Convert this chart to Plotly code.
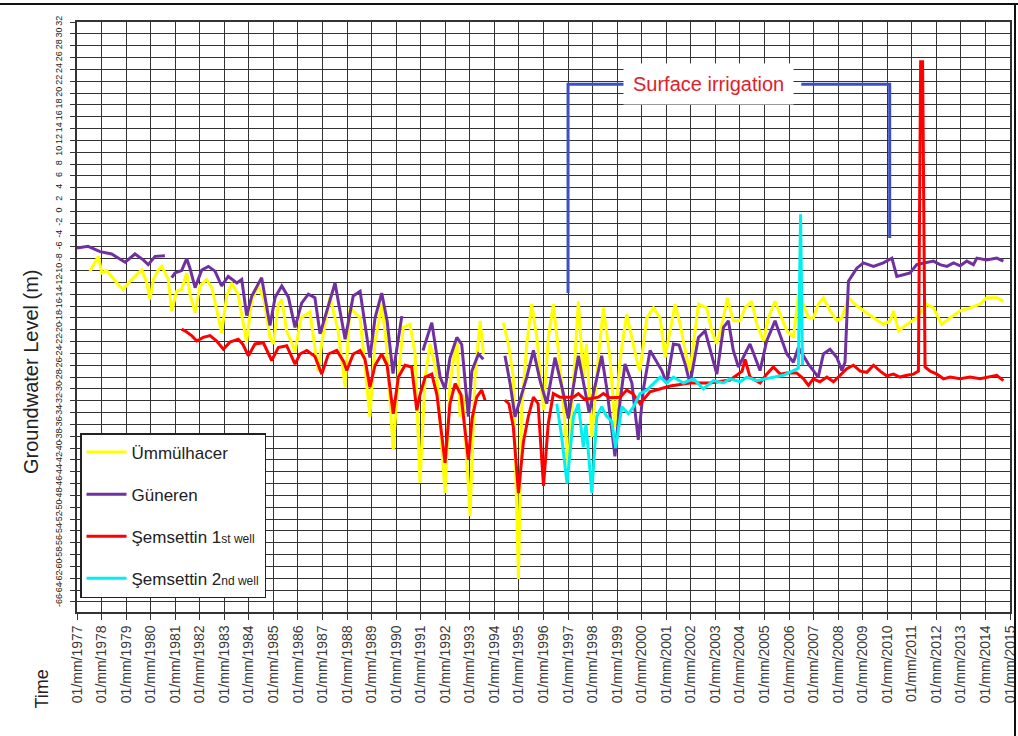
import plotly.graph_objects as go

# ---------------- data (decimal year, groundwater level in m) ----------------
umm_year = [1977.53, 1977.87, 1978.01, 1978.21, 1978.41, 1978.68, 1978.89, 1979.09, 1979.43, 1979.64,
            1979.84, 1979.97, 1980.11, 1980.31, 1980.45, 1980.72, 1980.86, 1981.06, 1981.26, 1981.47,
            1981.60, 1981.81, 1982.01, 1982.28, 1982.50, 1982.89, 1983.10, 1983.30, 1983.56, 1983.91,
            1984.12, 1984.39, 1984.62, 1984.86, 1985.00, 1985.20, 1985.34, 1985.54, 1985.76, 1985.88,
            1986.12, 1986.49, 1986.82, 1986.98, 1987.30, 1987.63, 1987.92, 1988.12, 1988.53, 1988.93,
            1989.14, 1989.41, 1989.59, 1989.88, 1990.08, 1990.29, 1990.56, 1990.77, 1990.97, 1991.18,
            1991.38, 1991.65, 1991.99, 1992.19, 1992.47, 1992.60, 1992.72, 1993.01, 1993.21, 1993.42,
            1993.55, 1994.00,
            1994.36, 1994.57, 1994.77, 1994.98, 1995.11, 1995.32, 1995.52, 1995.73, 1996.00, 1996.20,
            1996.40, 1996.67, 1997.01, 1997.22, 1997.42, 1997.62, 1997.75, 1997.97, 1998.23, 1998.44,
            1998.71, 1998.91, 1999.12, 1999.39, 1999.66, 1999.86, 1999.93, 2000.21, 2000.48, 2000.75,
            2000.95, 2001.16, 2001.36, 2001.56, 2001.83, 2001.97, 2002.31, 2002.65, 2002.85, 2003.06,
            2003.33, 2003.49, 2003.73, 2004.01, 2004.21, 2004.48, 2004.69, 2004.96, 2005.16, 2005.43,
            2005.64, 2005.91, 2006.18, 2006.38, 2006.59, 2006.79, 2006.99, 2007.19, 2007.40, 2007.67,
            2007.95, 2008.15, 2008.42, 2008.69, 2009.03, 2009.44, 2009.84, 2010.12, 2010.26, 2010.46,
            2010.80, 2011.20, 2011.61, 2011.88, 2012.22, 2012.56, 2012.97, 2013.37, 2013.78, 2014.05,
            2014.46, 2014.73]
umm_level = [-10.1, -7.6, -10.4, -10.0, -11.0, -12.4, -13.2, -12.1, -10.7, -9.9,
             -12.0, -14.9, -11.5, -9.9, -9.3, -11.5, -16.8, -13.5, -13.2, -10.4,
             -14.0, -17.1, -12.6, -11.5, -13.0, -20.5, -14.3, -12.1, -14.0, -22.1,
             -14.9, -12.6, -15.0, -21.3, -22.4, -15.7, -14.9, -20.2, -22.4, -23.8,
             -18.0, -17.0, -27.0, -22.0, -14.5, -20.0, -29.7, -16.3, -18.0, -34.7,
             -22.0, -15.7, -22.0, -40.3, -28.0, -19.6, -19.1, -24.0, -45.9, -28.0,
             -22.4, -27.5, -47.6, -29.1, -21.3, -34.7, -31.0, -51.5, -28.0, -18.5,
             -24.1, None,
             -18.8, -22.4, -28.0, -62.1, -33.6, -22.4, -15.7, -21.3, -33.6, -21.3,
             -15.7, -25.8, -43.1, -28.0, -15.2, -28.0, -22.4, -38.1, -24.8, -16.3,
             -24.8, -36.4, -25.0, -17.4, -22.4, -26.3, -26.9, -18.0, -16.3, -18.0,
             -24.7, -20.2, -15.7, -19.0, -24.7, -26.9, -15.7, -16.3, -20.2, -22.4,
             -18.0, -14.6, -18.5, -18.5, -16.3, -15.2, -19.1, -21.9, -18.0, -15.2,
             -17.5, -20.2, -21.3, -14.0, -15.7, -18.0, -18.0, -15.7, -14.6, -16.8,
             -18.5, -18.0, -14.6, -15.7, -16.8, -18.0, -19.1, -18.5, -16.8, -20.2,
             -19.1, -18.0, -15.7, -16.3, -19.1, -18.0, -16.8, -16.3, -15.7, -14.6,
             -14.6, -15.2]

gun_year = [1977.00, 1977.45, 1977.94, 1978.41, 1978.96, 1979.36, 1979.70, 1979.90, 1980.18, 1980.58,
            1980.70,
            1980.86, 1980.99, 1981.26, 1981.47, 1981.60, 1981.81, 1982.08, 1982.35, 1982.62, 1982.89,
            1983.16, 1983.51, 1983.71, 1983.91, 1984.12, 1984.52, 1984.86, 1985.07, 1985.34, 1985.61,
            1985.88, 1986.15, 1986.42, 1986.69, 1986.90, 1987.24, 1987.51, 1987.71, 1987.92, 1988.25,
            1988.53, 1988.93, 1989.14, 1989.41, 1989.63, 1989.87, 1990.23, 1990.60,
            1991.09, 1991.45, 1991.79, 1991.99, 1992.19, 1992.47, 1992.67, 1992.94, 1993.08, 1993.35,
            1993.55, 1994.00,
            1994.43, 1994.64, 1994.84, 1995.32, 1995.59, 1995.86, 1996.13, 1996.47, 1996.81, 1997.01,
            1997.42, 1997.62, 1997.86, 1998.37, 1998.58, 1998.91, 1999.12, 1999.32, 1999.60, 1999.86,
            2000.07, 2000.34, 2000.82, 2001.02, 2001.29, 2001.52, 2001.77, 2001.97, 2002.31, 2002.58,
            2003.06, 2003.33, 2003.53, 2003.73, 2003.94, 2004.41, 2004.82, 2005.09, 2005.43, 2005.91,
            2006.18, 2006.38, 2006.79, 2006.99, 2007.19, 2007.40, 2007.67, 2007.95, 2008.15, 2008.28,
            2008.42, 2008.76, 2009.03, 2009.44, 2009.84, 2010.19, 2010.39, 2010.66, 2010.93, 2011.20,
            2011.61, 2011.88, 2012.15, 2012.43, 2012.70, 2012.97, 2013.24, 2013.51, 2013.65, 2014.05,
            2014.46, 2014.73]
gun_level = [-6.2, -5.9, -6.8, -7.2, -8.6, -7.2, -8.2, -9.0, -7.6, -7.5,
             None,
             -11.2, -10.4, -10.0, -8.0, -9.6, -12.9, -9.9, -9.3, -10.1, -12.6,
             -11.0, -12.1, -11.5, -17.6, -14.3, -11.2, -19.3, -14.5, -12.6, -14.5,
             -19.6, -15.5, -14.0, -14.6, -20.7, -16.0, -12.1, -16.8, -21.6, -14.3,
             -13.5, -24.7, -18.0, -13.8, -18.5, -27.4, -17.7, None,
             -23.5, -18.8, -28.0, -30.0, -24.8, -21.3, -22.5, -34.7, -27.0, -24.1,
             -25.0, None,
             -24.4, -29.1, -34.7, -28.0, -23.5, -28.6, -32.5, -24.7, -30.8, -35.0,
             -24.4, -29.1, -34.0, -24.4, -30.0, -41.4, -32.0, -25.8, -29.0, -38.6,
             -30.0, -23.5, -26.9, -29.1, -22.4, -22.6, -25.8, -29.1, -21.3, -20.2,
             -27.5, -19.6, -18.5, -23.5, -26.3, -22.4, -26.9, -21.9, -18.5, -24.1,
             -25.5, -23.0, -25.8, -26.9, -28.0, -24.1, -23.3, -24.7, -26.9, -25.5,
             -11.8, -9.6, -8.7, -9.3, -8.7, -7.9, -11.0, -10.7, -10.4, -9.0,
             -8.7, -8.4, -9.0, -9.3, -8.7, -9.2, -8.4, -9.0, -7.9, -8.2,
             -7.9, -8.4]

sem1_year = [1981.26, 1981.44, 1981.67, 1981.88, 1982.14, 1982.42, 1982.69, 1982.96, 1983.23, 1983.57,
             1983.76, 1983.98, 1984.25, 1984.59, 1984.93, 1985.20, 1985.54, 1985.88, 1986.08, 1986.36,
             1986.69, 1986.97, 1987.24, 1987.58, 1987.85, 1987.99, 1988.25, 1988.53, 1988.73, 1988.93,
             1989.14, 1989.41, 1989.63, 1989.88, 1990.09, 1990.36, 1990.63, 1990.84, 1990.97, 1991.18,
             1991.45, 1991.66, 1991.99, 1992.19, 1992.40, 1992.64, 1992.94, 1993.09, 1993.28, 1993.48,
             1993.62, 1994.00,
             1994.43, 1994.59, 1994.77, 1994.98, 1995.18, 1995.38, 1995.59, 1995.78, 1996.00, 1996.19,
             1996.40, 1996.67, 1997.22, 1997.42, 1997.69, 1998.23, 1998.44, 1998.71, 1999.12, 1999.39,
             1999.64, 1999.93, 2000.34, 2001.16, 2001.97, 2002.78, 2003.60, 2004.09, 2004.21, 2004.41,
             2004.82, 2005.09, 2005.36, 2005.64, 2005.91, 2006.31, 2006.59, 2006.79, 2006.99, 2007.26,
             2007.54, 2007.81, 2008.08, 2008.35, 2008.62, 2008.90, 2009.17, 2009.44, 2009.71, 2009.98,
             2010.25, 2010.52, 2010.80, 2011.07, 2011.27, 2011.36, 2011.44, 2011.54, 2011.75, 2012.02,
             2012.29, 2012.56, 2012.97, 2013.37, 2013.78, 2014.19, 2014.46, 2014.73]
sem1_level = [-19.9, -20.3, -21.0, -21.9, -21.3, -21.0, -21.9, -23.3, -22.1, -21.6,
              -22.5, -24.4, -22.4, -22.2, -25.2, -23.0, -22.7, -25.8, -24.1, -23.5,
              -24.5, -27.5, -24.1, -23.5, -25.3, -26.9, -24.1, -23.5, -25.0, -29.7,
              -26.0, -24.1, -26.0, -34.2, -28.0, -26.0, -26.3, -33.6, -31.0, -28.0,
              -27.5, -31.0, -42.5, -32.5, -29.1, -31.0, -42.0, -35.0, -31.4, -30.2,
              -31.9, None,
              -31.9, -32.5, -36.4, -47.6, -39.0, -34.7, -31.4, -32.5, -46.4, -36.0,
              -30.8, -31.4, -31.4, -30.8, -31.8, -31.4, -30.8, -31.5, -31.4, -30.2,
              -30.8, -32.5, -30.5, -29.5, -29.0, -29.0, -28.5, -27.0, -25.0, -28.0,
              -29.0, -27.5, -26.3, -27.5, -27.3, -27.3, -28.3, -29.4, -28.3, -28.8,
              -28.0, -28.8, -27.7, -26.6, -26.0, -27.0, -27.2, -26.0, -27.0, -27.8,
              -27.5, -28.0, -27.7, -27.5, -27.0, 25.3, 25.3, -26.3, -27.0, -27.5,
              -28.3, -28.0, -28.3, -28.0, -28.3, -28.0, -27.7, -28.6]

sem2_year = [1996.54, 1996.74, 1996.96, 1997.22, 1997.42, 1997.62, 1997.73, 1997.97, 1998.17, 1998.37,
             1998.55, 1998.78, 1998.94, 1999.19, 1999.46, 1999.67, 1999.93, 2000.21, 2000.48, 2000.75,
             2001.02, 2001.29, 2001.70, 2002.11, 2002.51, 2002.92, 2003.33, 2003.60, 2004.01, 2004.28,
             2004.69, 2005.09, 2005.50, 2005.77, 2006.18, 2006.38, 2006.47, 2006.55]
sem2_level = [-32.5, -38.1, -46.0, -34.7, -32.5, -39.8, -36.0, -47.6, -34.7, -33.0,
              -34.5, -35.5, -40.0, -33.0, -34.2, -33.0, -30.8, -30.2, -29.1, -28.0,
              -29.0, -28.0, -29.0, -28.3, -30.0, -28.6, -29.0, -28.3, -28.8, -28.0,
              -28.6, -28.3, -28.0, -27.7, -26.9, -26.5, -0.5, -26.0]

# "Surface irrigation" bracket
bracket_left_x = [1997.0, 1997.0, 1999.3]
bracket_left_y = [-13.8, 21.5, 21.5]
bracket_right_x = [2006.5, 2010.1, 2010.1]
bracket_right_y = [21.5, 21.5, -4.5]
bracket_label = "Surface irrigation"
bracket_label_x = 2002.7
bracket_label_y = 21.5

year_ticks = list(range(1977, 2016))
x_tick_labels = ["01/mm/%d" % y for y in year_ticks]
y_ticks = list(range(32, -67, -2))
y_tick_labels = [str(v) for v in y_ticks]

series_names = ["Ümmülhacer", "Güneren",
                "Şemsettin 1<span style='font-size:12px'>st well</span>",
                "Şemsettin 2<span style='font-size:12px'>nd well</span>"]
series_colors = ["#FFFF00", "#7030A0", "#FF0000", "#00F0F0"]

# ---------------- figure ----------------
W, H = 1018, 736
ML, MR, MT, MB = 77, 8, 22, 124
pw = W - ML - MR
ph = H - MT - MB
FONT = "Arial, Liberation Sans, sans-serif"

fig = go.Figure()
for xs, ys, name, col, grp in zip(
        [umm_year, gun_year, sem1_year, sem2_year],
        [umm_level, gun_level, sem1_level, sem2_level],
        series_names, series_colors, ["a", "b", "c", "d"]):
    fig.add_trace(go.Scatter(x=xs, y=ys, mode="lines", name=name, legendgroup=grp,
                             line=dict(color=col, width=3), connectgaps=False))

for bx, by in [(bracket_left_x, bracket_left_y), (bracket_right_x, bracket_right_y)]:
    fig.add_trace(go.Scatter(x=bx, y=by, mode="lines", showlegend=False, hoverinfo="skip",
                             line=dict(color="#3D4FC6", width=3)))

fig.add_annotation(x=bracket_label_x, y=bracket_label_y, xref="x", yref="y", text=bracket_label,
                   showarrow=False, bgcolor="white", borderpad=9,
                   font=dict(family=FONT, size=20, color="#E0202A"))

# axis titles as free text
fig.add_annotation(x=-36 / pw, y=-(668 - MT - ph) / ph, xref="paper", yref="paper",
                   text="Time", showarrow=False, textangle=-90, xanchor="center", yanchor="top",
                   font=dict(family=FONT, size=18, color="#222"))
fig.add_annotation(x=-46 / pw, y=1 - (372 - MT) / ph, xref="paper", yref="paper",
                   text="Groundwater Level (m)", showarrow=False, textangle=-90,
                   xanchor="center", yanchor="middle",
                   font=dict(family=FONT, size=20, color="#222"))

# outer frame (top and right edges of the picture)
fig.add_shape(type="line", xref="paper", yref="paper", x0=-ML / pw, x1=(W - ML) / pw,
              y0=1 + (MT - 4) / ph, y1=1 + (MT - 4) / ph, line=dict(color="#111", width=2))
fig.add_shape(type="line", xref="paper", yref="paper", x0=(1015 - ML) / pw, x1=(1015 - ML) / pw,
              y0=1 + (MT - 4) / ph, y1=-(MB) / ph, line=dict(color="#111", width=2))

fig.update_layout(
    width=W, height=H,
    margin=dict(l=ML, r=MR, t=MT, b=MB, autoexpand=False),
    paper_bgcolor="white", plot_bgcolor="white",
    font=dict(family=FONT, color="#222"),
    showlegend=True,
    legend=dict(x=3 / pw, y=1 - (433 - MT) / ph, xanchor="left", yanchor="top",
                bgcolor="white", bordercolor="#222", borderwidth=1.5,
                font=dict(family=FONT, size=17, color="#222"),
                tracegroupgap=17, itemwidth=40),
)
fig.update_xaxes(range=[1977, 2015], tickmode="array", tickvals=year_ticks, ticktext=x_tick_labels,
                 tickangle=-90, tickfont=dict(size=14, color="#3a3a3a"), automargin=False,
                 showgrid=True, gridcolor="#333333", gridwidth=1.3,
                 showline=True, mirror=True, linecolor="#333333", linewidth=1.5,
                 ticks="outside", ticklen=6, tickcolor="#333333", zeroline=False)
fig.update_yaxes(range=[-67.7, 32], tickmode="array", tickvals=y_ticks, ticktext=y_tick_labels,
                 tickangle=-90, tickfont=dict(size=9, color="#222"), automargin=False,
                 ticklabelstandoff=5,
                 showgrid=True, gridcolor="#333333", gridwidth=1.3,
                 showline=True, mirror=True, linecolor="#333333", linewidth=1.5,
                 ticks="outside", ticklen=5, tickcolor="#333333", zeroline=False)

fig.write_html("out.html", config={"displayModeBar": False},
               post_script="document.body.style.margin='0px';")
